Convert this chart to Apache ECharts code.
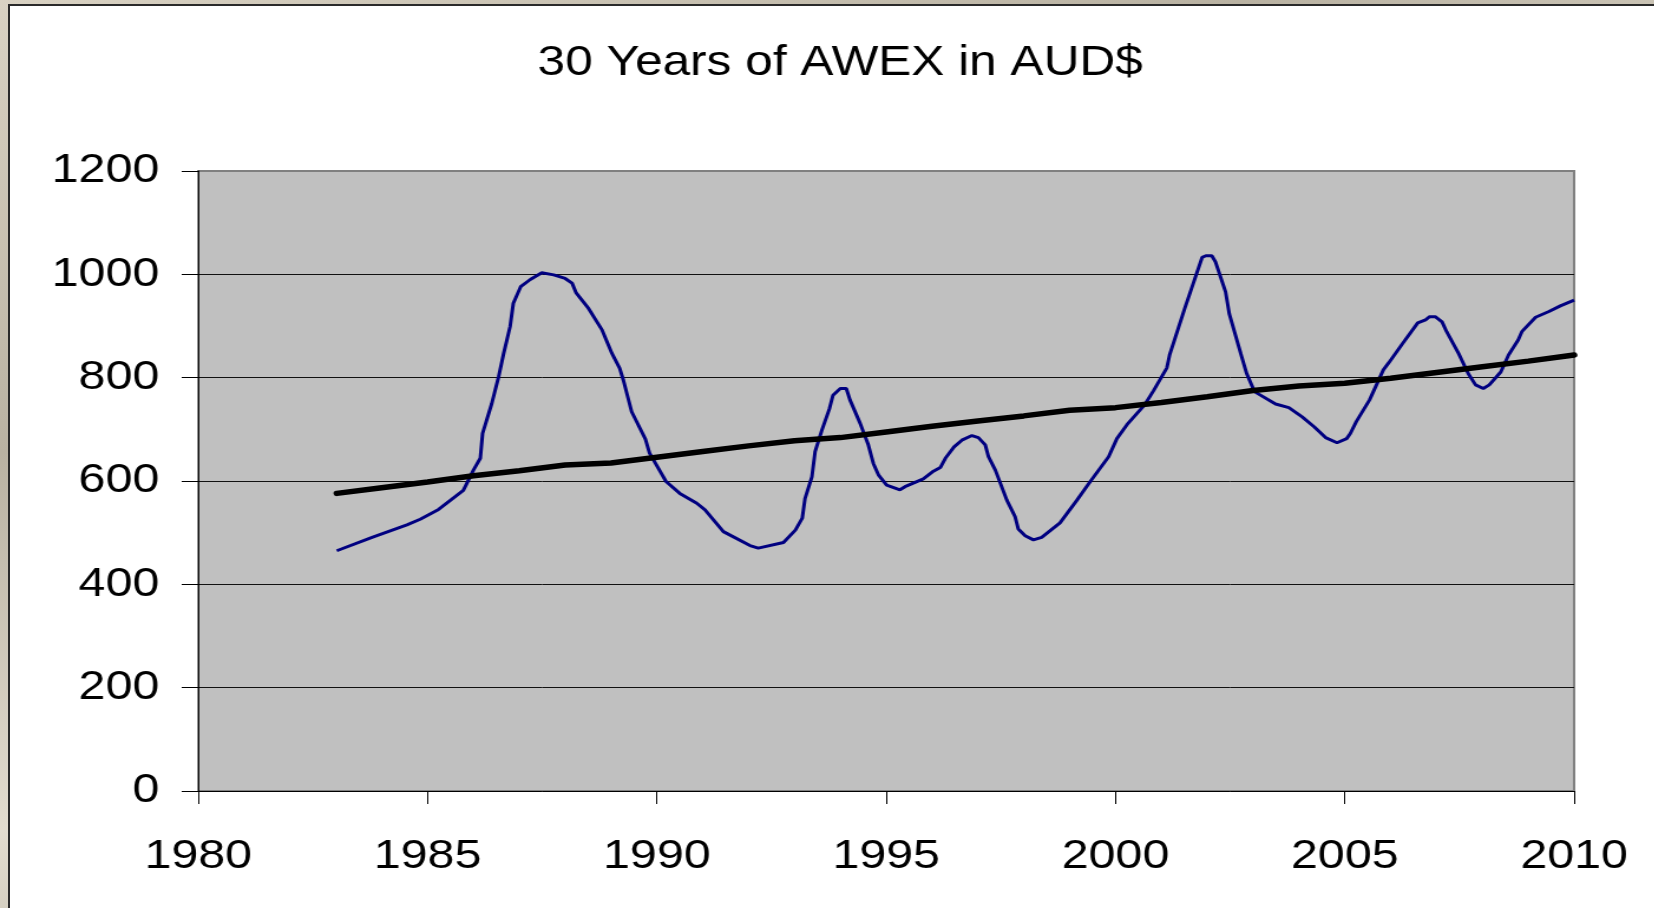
<!DOCTYPE html>
<html>
<head>
<meta charset="utf-8">
<title>30 Years of AWEX in AUD$</title>
<script src="https://cdn.jsdelivr.net/npm/echarts@6/dist/echarts.min.js"></script>
<style>
    html, body { margin: 0; padding: 0; }
    body {
        width: 1654px; height: 908px; overflow: hidden; position: relative;
        /* stone / parchment texture behind the slide panel */
        background: linear-gradient(160deg, #d9d2c3 0%, #b9b2a2 30%, #e2dccf 55%, #a9a593 80%, #cfc8b8 100%);
    }
    #panel {
        position: absolute; left: 8px; top: 4px; width: 1660px; height: 920px;
        background: #fff; border-left: 2px solid #2a2a2a; border-top: 2px solid #2a2a2a;
    }
    /* the original picture is stretched sideways, so the chart is drawn narrower and scaled on x */
    #chart {
        position: absolute; left: 0; top: 0; width: 1402px; height: 908px;
        transform: scaleX(1.18); transform-origin: 0 0;
    }
</style>
</head>
<body>
<div id="panel"></div>
<div id="chart"></div>
<script>
    // AWEX market indicator (year, AUD c/kg)
    var awexYears = [
        1983.02, 1983.79, 1984.55, 1984.84, 1985.24, 1985.78, 1986.00, 1986.15, 1986.20, 1986.40,
        1986.55, 1986.66, 1986.80, 1986.87, 1987.03, 1987.24, 1987.49, 1987.75, 1988.00, 1988.15,
        1988.24, 1988.51, 1988.80, 1989.02, 1989.19, 1989.27, 1989.45, 1989.75, 1989.84, 1990.20,
        1990.50, 1990.87, 1991.05, 1991.45, 1992.03, 1992.21, 1992.76, 1993.02, 1993.17, 1993.23,
        1993.38, 1993.45, 1993.60, 1993.76, 1993.84, 1994.00, 1994.13, 1994.21, 1994.43, 1994.61,
        1994.72, 1994.83, 1995.01, 1995.30, 1995.41, 1995.81, 1996.03, 1996.18, 1996.29, 1996.48,
        1996.65, 1996.87, 1997.01, 1997.16, 1997.23, 1997.38, 1997.63, 1997.81, 1997.88, 1998.03,
        1998.21, 1998.39, 1998.79, 1999.16, 1999.45, 1999.85, 2000.03, 2000.25, 2000.64, 2000.83,
        2001.12, 2001.18, 2001.26, 2001.51, 2001.77, 2001.89, 2001.97, 2002.10, 2002.18, 2002.40,
        2002.48, 2002.73, 2002.86, 2003.03, 2003.49, 2003.78, 2004.07, 2004.33, 2004.58, 2004.83,
        2005.04, 2005.12, 2005.25, 2005.54, 2005.84, 2005.96, 2006.26, 2006.59, 2006.76, 2006.85,
        2006.97, 2007.12, 2007.22, 2007.48, 2007.69, 2007.85, 2008.02, 2008.15, 2008.40, 2008.57,
        2008.78, 2008.86, 2009.16, 2009.45, 2009.70, 2010.00
    ];
    var awexValues = [
        465, 491, 515, 526, 545, 582, 621, 644, 692, 750,
        802, 847, 899, 944, 976, 990, 1003, 999, 992, 983,
        964, 934, 893, 847, 818, 795, 734, 681, 654, 599,
        576, 557, 544, 502, 475, 470, 481, 505, 528, 566,
        608, 657, 699, 739, 766, 779, 779, 757, 712, 670,
        634, 612, 592, 583, 589, 604, 619, 626, 644, 666,
        679, 688, 684, 670, 647, 621, 563, 531, 507, 494,
        486, 491, 519, 563, 599, 647, 682, 709, 748, 775,
        819, 844, 866, 934, 1002, 1033, 1036, 1036, 1024, 966,
        924, 847, 808, 773, 749, 742, 724, 705, 684, 674,
        682, 692, 715, 757, 815, 829, 866, 906, 912, 918,
        918, 908, 889, 847, 808, 786, 779, 786, 811, 844,
        873, 889, 917, 928, 939, 950
    ];

    // long term trend (thick black line)
    var trendYears = [
        1983.02, 1984, 1985, 1986, 1987, 1988, 1989, 1990, 1991, 1992, 1993, 1994, 1995, 1996,
        1997, 1998, 1999, 2000, 2001, 2002, 2003, 2004, 2005, 2006, 2007, 2008, 2009, 2010
    ];
    var trendValues = [
        576, 587, 598, 610, 620, 631, 635, 646, 657, 668, 678, 684, 695, 706,
        716, 726, 737, 742, 752, 763, 775, 784, 789, 799, 810, 821, 832, 844
    ];

    var yearTicks = [1980, 2010, 5];     // min, max, step
    var valueTicks = [0, 1200, 200];

    function pairs(xs, ys) {
        var out = [];
        for (var i = 0; i < xs.length; i++) {
            out.push([xs[i], ys[i]]);
        }
        return out;
    }

    // plain numbers, no thousands separator
    function plain(v) {
        return String(v);
    }

    var font = '"Liberation Sans", Arial, sans-serif';

    var myChart = echarts.init(document.getElementById('chart'), null, {renderer: 'canvas'});
    var option = {
        animation: false,
        backgroundColor: 'transparent',
        title: {
            text: '30 Years of AWEX in AUD$',
            left: 712,
            top: 42,
            textAlign: 'center',
            padding: 0,
            textStyle: {
                fontFamily: font,
                fontSize: 42,
                fontWeight: 'normal',
                color: '#000'
            }
        },
        grid: {
            left: 168,
            right: 68,
            top: 171,
            bottom: 117,
            show: true,
            backgroundColor: '#c0c0c0',
            borderColor: '#808080',
            borderWidth: 2
        },
        xAxis: {
            type: 'value',
            min: yearTicks[0],
            max: yearTicks[1],
            interval: yearTicks[2],
            axisLine: {show: true, onZero: false, lineStyle: {color: '#000', width: 1}},
            axisTick: {show: true, length: 13, lineStyle: {color: '#000', width: 1}},
            splitLine: {show: false},
            axisLabel: {
                margin: 45,
                fontFamily: font,
                fontSize: 41,
                color: '#000',
                formatter: plain,
                showMinLabel: true,
                showMaxLabel: true
            }
        },
        yAxis: {
            type: 'value',
            min: valueTicks[0],
            max: valueTicks[1],
            interval: valueTicks[2],
            axisLine: {show: true, lineStyle: {color: '#000', width: 1}},
            axisTick: {show: true, length: 14, lineStyle: {color: '#000', width: 1}},
            splitLine: {
                show: true,
                showMinLine: false,
                showMaxLine: false,
                lineStyle: {color: '#111', width: 1}
            },
            axisLabel: {
                margin: 33,
                fontFamily: font,
                fontSize: 41,
                color: '#000',
                formatter: plain
            }
        },
        series: [
            {
                name: 'AWEX',
                type: 'line',
                data: pairs(awexYears, awexValues),
                showSymbol: false,
                lineStyle: {color: '#000080', width: 3},
                z: 3
            },
            {
                name: 'Trend',
                type: 'line',
                data: pairs(trendYears, trendValues),
                showSymbol: false,
                lineStyle: {color: '#000', width: 5.5, cap: 'round'},
                z: 4
            }
        ]
    };
    myChart.setOption(option, true);
</script>
</body>
</html>
